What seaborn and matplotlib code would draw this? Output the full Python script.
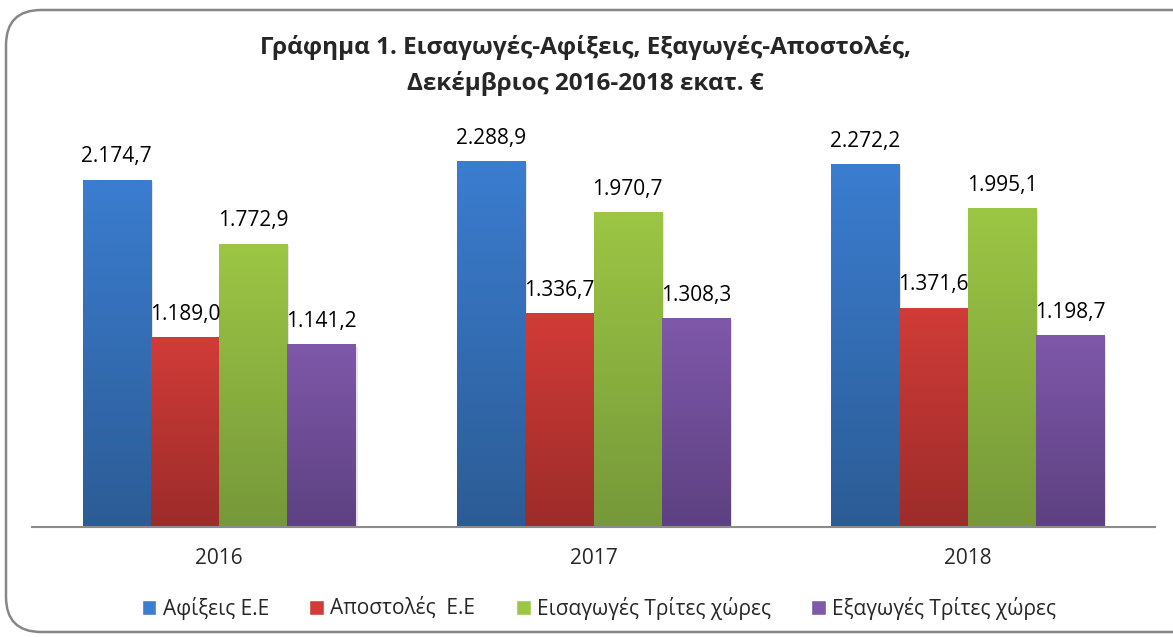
import matplotlib
matplotlib.use("Agg")
import matplotlib.pyplot as plt
import numpy as np
import pandas as pd
import seaborn as sns
from matplotlib.colors import LinearSegmentedColormap
from matplotlib.patches import FancyBboxPatch, Rectangle

years = ["2016", "2017", "2018"]
series = ["Αφίξεις Ε.Ε", "Αποστολές  Ε.Ε", "Εισαγωγές Τρίτες χώρες", "Εξαγωγές Τρίτες χώρες"]
afixeis = [2174.7, 2288.9, 2272.2]
apostoles = [1189.0, 1336.7, 1371.6]
eisagoges = [1772.9, 1970.7, 1995.1]
exagoges = [1141.2, 1308.3, 1198.7]

# gradient (top, bottom) per series
top_colors = ["#3b7dd0", "#d13c38", "#9cc644", "#7f58aa"]
bottom_colors = ["#2c5c95", "#9c2c2a", "#76983a", "#5d4181"]

rows = []
for name, vals in zip(series, [afixeis, apostoles, eisagoges, exagoges]):
    for y, v in zip(years, vals):
        rows.append({"year": y, "series": name, "value": v})
df = pd.DataFrame(rows)

sns.set_style("white")
plt.rcParams["font.family"] = ["Open Sans", "DejaVu Sans"]

fig = plt.figure(figsize=(11.73, 6.37), dpi=100)
ax = fig.add_axes([32 / 1173, 0.1727, (1155 - 32) / 1173, 0.651])

sns.barplot(data=df, x="year", y="value", hue="series", order=years, hue_order=series,
            palette=dict(zip(series, top_colors)), width=0.73, gap=0, ax=ax, legend=False,
            errorbar=None, saturation=1)

ax.set_ylim(0, 2600)
ax.set_xlim(-0.5, 2.5)

for i, container in enumerate(ax.containers):
    cmap = LinearSegmentedColormap.from_list(f"g{i}", [bottom_colors[i], top_colors[i]])
    for bar in container:
        x0, y0 = bar.get_x(), bar.get_y()
        w, h = bar.get_width(), bar.get_height()
        bar.set_visible(False)
        shadow = Rectangle((x0 + 0.005, y0 - 10), w, h, facecolor="#000000", alpha=0.10,
                           edgecolor="none", zorder=1.5)
        ax.add_patch(shadow)
        grad = np.linspace(0, 1, 256).reshape(-1, 1)
        ax.imshow(grad, extent=[x0, x0 + w, y0, y0 + h], origin="lower", aspect="auto",
                  cmap=cmap, zorder=2)
        label = f"{bar.get_height():,.1f}".replace(",", "X").replace(".", ",").replace("X", ".")
        ax.text(x0 + w / 2, y0 + h + 80, label, ha="center", va="bottom", fontsize=15,
                color="#000000", zorder=3)

ax.set_ylim(0, 2600)
ax.set_xlim(-0.5, 2.5)
ax.set_yticks([])
ax.set_xlabel("")
ax.set_ylabel("")
ax.tick_params(axis="x", length=0, labelsize=15, pad=15)
for side in ["top", "left", "right"]:
    ax.spines[side].set_visible(False)
ax.spines["bottom"].set_color("#8c8c8c")
ax.spines["bottom"].set_linewidth(1.5)

fig.text(585 / 1173, 1 - 47 / 637, "Γράφημα 1. Εισαγωγές-Αφίξεις, Εξαγωγές-Αποστολές,",
         ha="center", va="center", fontsize=17.5, fontweight="bold")
fig.text(585 / 1173, 1 - 84 / 637, "Δεκέμβριος 2016-2018 εκατ. €",
         ha="center", va="center", fontsize=17.5, fontweight="bold")

# legend
handles = [Rectangle((0, 0), 1, 1, facecolor=c) for c in top_colors]
fig.legend(handles, series, loc="center", bbox_to_anchor=(599 / 1173, 1 - 608 / 637), ncol=4,
           frameon=False, fontsize=15, handlelength=0.7, handleheight=0.7, handletextpad=0.3,
           columnspacing=1.95)

frame = FancyBboxPatch((6 / 1173, 5 / 637), 1.05, (632 - 10) / 637,
                       boxstyle="round,pad=0,rounding_size=0.03", transform=fig.transFigure,
                       facecolor="none", edgecolor="#878787", linewidth=1.8, mutation_aspect=1173 / 637)
fig.patches.append(frame)

fig.savefig("out.png", dpi=100)
